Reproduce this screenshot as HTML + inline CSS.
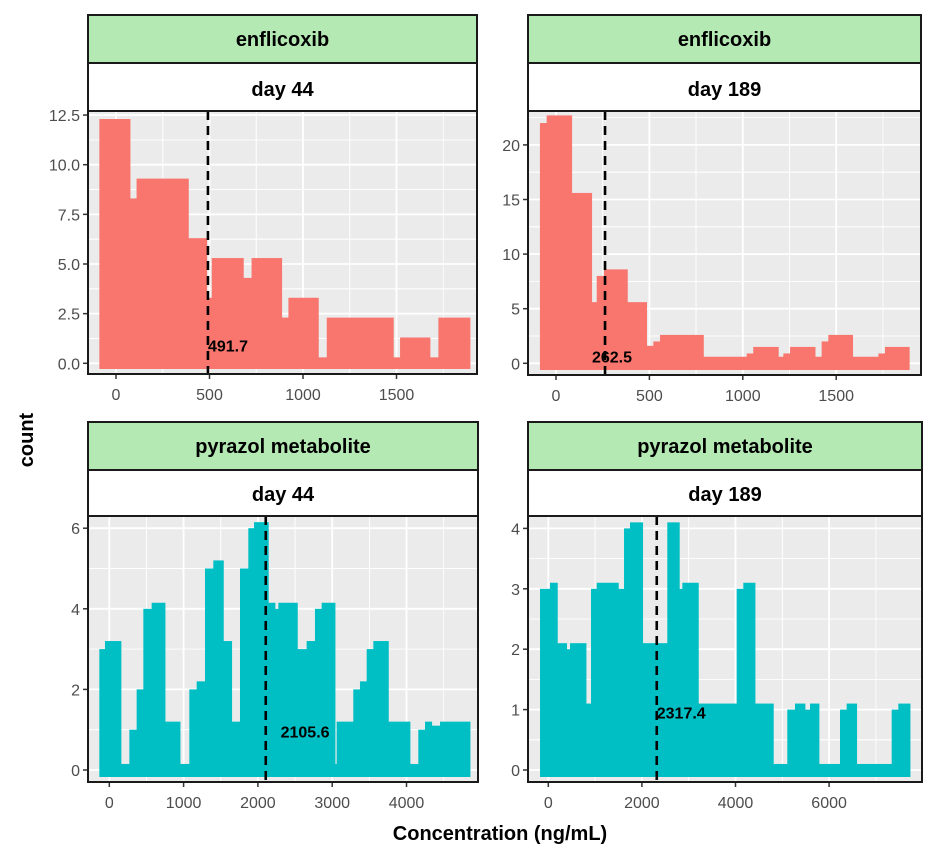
<!DOCTYPE html>
<html><head><meta charset="utf-8">
<style>
html,body{margin:0;padding:0;background:#fff;}
svg{display:block;font-family:"Liberation Sans",Arial,sans-serif;}
</style></head>
<body>
<svg id="chart" width="935" height="860" viewBox="0 0 935 860">
<text x="500" y="840" text-anchor="middle" font-size="20" font-weight="bold" fill="#000">Concentration (ng/mL)</text>
<text transform="translate(33,440) rotate(-90)" text-anchor="middle" font-size="20" font-weight="bold" fill="#000">count</text>
</svg>
<script>
// Panel 1: enflicoxib day 44
const p1Edges = [-89,75,110,387,485,512,681,725,886,922,1082,1127,1483,1519,1679,1724,1893];
const p1Counts = [12.3,8.3,9.3,6.3,3.3,5.3,4.3,5.3,2.3,3.3,0.3,2.3,0.3,1.3,0.3,2.3];
const p1Median = 491.7;
const p1XTicks = [0,500,1000,1500];
const p1YTicks = [0,2.5,5,7.5,10,12.5];
const p1YLabels = ["0.0","2.5","5.0","7.5","10.0","12.5"];
// Panel 2: enflicoxib day 189
const p2Edges = [-86,-50,84,191,218,257,382,485,521,557,789,1021,1056,1190,1217,1253,1387,1422,1458,1588,1726,1761,1891];
const p2Counts = [22,22.7,15.6,5.6,8,8.6,5.6,1.6,2,2.6,0.6,0.9,1.5,0.6,0.9,1.5,0.6,2,2.6,0.6,0.9,1.5];
const p2Median = 262.5;
const p2XTicks = [0,500,1000,1500];
const p2YTicks = [0,5,10,15,20];
const p2YLabels = ["0","5","10","15","20"];
// Panel 3: pyrazol metabolite day 44
const p3Edges = [-134,-58,157,270,368,458,570,750,952,1077,1176,1288,1400,1535,1647,1759,1871,1948,2140,2230,2275,2531,2656,2768,2858,3038,3060,3284,3374,3464,3554,3756,4047,4159,4249,4339,4451,4855];
const p3Counts = [3,3.2,0.15,1,2,4,4.15,1.2,0.15,2,2.2,5,5.2,3.2,1.2,5,6,6.15,4.15,4,4.15,3,3.2,4,4.15,0.15,1.2,2,2.2,3,3.2,1.2,0.15,1,1.2,1.1,1.2];
const p3Median = 2105.6;
const p3XTicks = [0,1000,2000,3000,4000];
const p3YTicks = [0,2,4,6];
const p3YLabels = ["0","2","4","6"];
// Panel 4: pyrazol metabolite day 189
const p4Edges = [-177,36,193,392,464,806,912,1034,1496,1618,1746,2016,2543,2799,2864,3206,4025,4167,4417,4808,5107,5271,5485,5592,5784,6233,6375,6589,7337,7479,7729];
const p4Counts = [3,3.1,2.1,2,2.1,1.1,3,3.1,3,4,4.1,2.1,4.1,3,3.1,1.1,3,3.1,1.1,0.1,1,1.1,1,1.1,0.1,1,1.1,0.1,1,1.1];
const p4Median = 2317.4;
const p4XTicks = [0,2000,4000,6000];
const p4YTicks = [0,1,2,3,4];
const p4YLabels = ["0","1","2","3","4"];

const NS = "http://www.w3.org/2000/svg";
const svg = document.getElementById("chart");
function mk(tag, attrs, parent){
  const e = document.createElementNS(NS, tag);
  for (const k in attrs) e.setAttribute(k, attrs[k]);
  (parent||svg).appendChild(e);
  return e;
}
function panel(cfg){
  const g = mk("g", {});
  
  
  const L=cfg.L,R=cfg.R,T=cfg.T,B=cfg.B;
  const sx = v => cfg.x0px + (v - 0) * cfg.xs;
  const sy = v => cfg.y0px - v * cfg.ys;
  const s1 = mk("rect",{x:L,y:cfg.stripTop,width:R-L,height:T-cfg.stripTop,fill:"#fff",stroke:"#1a1a1a","stroke-width":2},g);
  
  
  const s0 = mk("rect",{x:L,y:cfg.stripTop-48,width:R-L,height:48,fill:"#b4e9b4",stroke:"#1a1a1a","stroke-width":2},g);
  
  
  const t0 = mk("text",{x:(L+R)/2,y:cfg.stripTop-17,"text-anchor":"middle","font-size":20,"font-weight":"bold",fill:"#000"},g);
  t0.textContent = cfg.drug;
  
  
  const t1 = mk("text",{x:(L+R)/2,y:T-15,"text-anchor":"middle","font-size":20,"font-weight":"bold",fill:"#000"},g);
  t1.textContent = cfg.day;
  
  
  const bg = mk("rect",{x:L,y:T,width:R-L,height:B-T,fill:"#ebebeb"},g);
  
  
  for (let i=0;i<cfg.xt.length;i++){
    const step = cfg.xt[1]-cfg.xt[0];
    [cfg.xt[i]-step/2, cfg.xt[i]+step/2].forEach(v=>{
      const x=sx(v); if(x>L&&x<R){
        const ln = mk("line",{x1:x,x2:x,y1:T,y2:B,stroke:"#fff","stroke-width":0.8},g);
        
        
      }
    });
  }
  for (let i=0;i<cfg.yt.length;i++){
    const step = cfg.yt[1]-cfg.yt[0];
    [cfg.yt[i]-step/2, cfg.yt[i]+step/2].forEach(v=>{
      const y=sy(v); if(y>T&&y<B){
        const ln = mk("line",{x1:L,x2:R,y1:y,y2:y,stroke:"#fff","stroke-width":0.8},g);
        
        
      }
    });
  }
  cfg.xt.forEach(v=>{
    const x=sx(v);
    const ln = mk("line",{x1:x,x2:x,y1:T,y2:B,stroke:"#fff","stroke-width":1.8},g);
    
    
    const tk = mk("line",{x1:x,x2:x,y1:B,y2:B+5,stroke:"#333","stroke-width":1.5},g);
    
    
    const tl = mk("text",{x:x,y:B+26,"text-anchor":"middle","font-size":16,fill:"#4d4d4d"},g);
    tl.textContent = String(v);
    
    
  });
  cfg.yt.forEach((v,i)=>{
    const y=sy(v);
    const ln = mk("line",{x1:L,x2:R,y1:y,y2:y,stroke:"#fff","stroke-width":1.8},g);
    
    
    const tk = mk("line",{x1:L-5,x2:L,y1:y,y2:y,stroke:"#333","stroke-width":1.5},g);
    
    
    const tl = mk("text",{x:L-8,y:y+6,"text-anchor":"end","font-size":16,fill:"#4d4d4d"},g);
    tl.textContent = cfg.yl[i];
    
    
  });
  const base = B - 5;
  for (let i=0;i<cfg.counts.length;i++){
    const x0=sx(cfg.edges[i]), x1=sx(cfg.edges[i+1]), y=sy(cfg.counts[i]);
    const r = mk("rect",{x:x0,y:y,width:Math.max(0,x1-x0+0.4),height:Math.max(0,base-y),fill:cfg.color},g);
    
    
  }
  const mx = sx(cfg.median);
  const ml = mk("line",{x1:mx,x2:mx,y1:T,y2:B,stroke:"#000","stroke-width":2.6,"stroke-dasharray":"9,6"},g);
  
  
  const mt = mk("text",{x:sx(cfg.median+cfg.labOff),y:sy(cfg.labY)+6,"text-anchor":cfg.anchor,"font-size":16,"font-weight":"bold",fill:"#000"},g);
  mt.textContent = cfg.median.toFixed(1);
  
  
  const bd = mk("rect",{x:L,y:T,width:R-L,height:B-T,fill:"none",stroke:"#1a1a1a","stroke-width":2},g);
  
  
}
panel({name:"panel-enflicoxib-day44",drug:"enflicoxib",day:"day 44",L:88,R:477,T:111,B:374,stripTop:63,
  x0px:116,xs:0.187,y0px:363.3,ys:19.86,edges:p1Edges,counts:p1Counts,median:p1Median,xt:p1XTicks,yt:p1YTicks,yl:p1YLabels,
  color:"#f8766d",labOff:0,labY:0.9,anchor:"start"});
panel({name:"panel-enflicoxib-day189",drug:"enflicoxib",day:"day 189",L:528,R:921,T:111,B:375,stripTop:63,
  x0px:556,xs:0.1868,y0px:363.3,ys:10.92,edges:p2Edges,counts:p2Counts,median:p2Median,xt:p2XTicks,yt:p2YTicks,yl:p2YLabels,
  color:"#f8766d",labOff:-70,labY:0.6,anchor:"start"});
panel({name:"panel-pyrazol-day44",drug:"pyrazol metabolite",day:"day 44",L:88,R:478,T:516,B:782,stripTop:470,
  x0px:109.3,xs:0.0743,y0px:770,ys:40.3,edges:p3Edges,counts:p3Counts,median:p3Median,xt:p3XTicks,yt:p3YTicks,yl:p3YLabels,
  color:"#00bfc4",labOff:200,labY:0.95,anchor:"start"});
panel({name:"panel-pyrazol-day189",drug:"pyrazol metabolite",day:"day 189",L:528,R:922,T:516,B:782,stripTop:470,
  x0px:548.3,xs:0.0468,y0px:770,ys:60.4,edges:p4Edges,counts:p4Counts,median:p4Median,xt:p4XTicks,yt:p4YTicks,yl:p4YLabels,
  color:"#00bfc4",labOff:0,labY:0.95,anchor:"start"});
</script>
</body></html>
